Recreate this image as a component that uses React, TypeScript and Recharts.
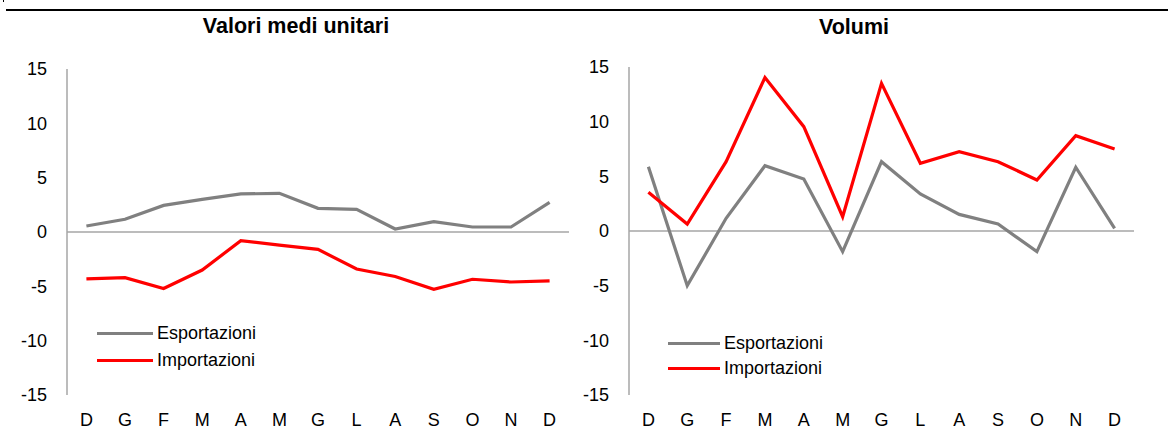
import React from 'react';
import { LineChart, Line, XAxis, YAxis, ReferenceLine, Legend } from 'recharts';

const months = ['D', 'G', 'F', 'M', 'A', 'M', 'G', 'L', 'A', 'S', 'O', 'N', 'D'];
const yTicks = [-15, -10, -5, 0, 5, 10, 15];

const seriesNames = { exp: 'Esportazioni', imp: 'Importazioni' };
const seriesColors = { exp: '#808080', imp: '#ff0000' };

const titleLeft = 'Valori medi unitari';
const titleRight = 'Volumi';

// Valori medi unitari
const vmuExport = [0.55, 1.17, 2.45, 3.0, 3.5, 3.56, 2.18, 2.09, 0.28, 0.95, 0.46, 0.46, 2.73];
const vmuImport = [-4.32, -4.2, -5.2, -3.5, -0.8, -1.2, -1.6, -3.4, -4.1, -5.27, -4.35, -4.6, -4.5];

// Volumi
const volExport = [5.88, -5.0, 1.16, 5.97, 4.76, -1.89, 6.34, 3.39, 1.52, 0.64, -1.89, 5.83, 0.25];
const volImport = [3.54, 0.64, 6.34, 14.03, 9.54, 1.31, 13.5, 6.19, 7.26, 6.34, 4.67, 8.72, 7.5];

const build = (a: number[], b: number[]) =>
  months.map((m, i) => ({ key: `${m}${i}`, m, exp: a[i], imp: b[i] }));

const leftData = build(vmuExport, vmuImport);
const rightData = build(volExport, volImport);

const FONT = '"Liberation Sans", Arial, sans-serif';
const AXIS = '#a6a6a6';

const makeLegend = (lineW: number, rowH: number) => () => (
  <div style={{ fontFamily: FONT, fontSize: 18, color: '#000' }}>
    {(['exp', 'imp'] as const).map((k) => (
      <div key={k} style={{ display: 'flex', alignItems: 'center', height: rowH, lineHeight: `${rowH}px` }}>
        <span style={{ display: 'inline-block', width: lineW, height: 3, background: seriesColors[k], marginRight: 4 }} />
        <span>{seriesNames[k]}</span>
      </div>
    ))}
  </div>
);

type PanelProps = {
  data: any[];
  width: number;
  margin: { top: number; right: number; bottom: number; left: number };
  legendLeft: number;
  legendTop: number;
  lineW: number;
  rowH: number;
};

const Panel = ({ data, width, margin, legendLeft, legendTop, lineW, rowH }: PanelProps) => (
  <LineChart width={width} height={434} data={data} margin={margin}>
    <XAxis
      dataKey="key"
      tickFormatter={(v: string) => v.replace(/\d+$/, '')}
      axisLine={false}
      tickLine={false}
      tickSize={0}
      tickMargin={18}
      height={30}
      interval={0}
      padding={{ left: 19.4, right: 19.4 }}
      tick={{ fill: '#000', fontSize: 18, fontFamily: FONT }}
    />
    <YAxis
      domain={[-15, 15]}
      ticks={yTicks}
      interval={0}
      width={60}
      axisLine={{ stroke: AXIS, strokeWidth: 1.5 }}
      tickLine={false}
      tickSize={0}
      tickMargin={20}
      tick={{ fill: '#000', fontSize: 18, fontFamily: FONT }}
    />
    <ReferenceLine y={0} stroke={AXIS} strokeWidth={1.5} />
    <Line type="linear" dataKey="exp" name={seriesNames.exp} stroke={seriesColors.exp} strokeWidth={3.2} dot={false} isAnimationActive={false} />
    <Line type="linear" dataKey="imp" name={seriesNames.imp} stroke={seriesColors.imp} strokeWidth={3.2} dot={false} isAnimationActive={false} />
    <Legend
      layout="vertical"
      align="center"
      verticalAlign="middle"
      content={makeLegend(lineW, rowH)}
      wrapperStyle={{ position: 'absolute', left: legendLeft, top: legendTop, width: 'auto', margin: 0 }}
    />
  </LineChart>
);

export default function App() {
  return (
    <div style={{ position: 'absolute', left: 0, top: 0, width: 1168, height: 434, background: '#fff', overflow: 'hidden', fontFamily: FONT }}>
      <div style={{ position: 'absolute', left: 3, top: 0, width: 1, height: 2, background: '#000' }} />
      <div style={{ position: 'absolute', left: 6, top: 9, width: 1162, height: 2, background: '#000' }} />
      <div style={{ position: 'absolute', left: 0, top: 0 }}>
        <Panel data={leftData} width={600} margin={{ top: 69, right: 31, bottom: 9, left: 7 }} legendLeft={97} legendTop={319.5} lineW={56} rowH={27} />
      </div>
      <div style={{ position: 'absolute', left: 560, top: 0 }}>
        <Panel data={rightData} width={608} margin={{ top: 67, right: 34, bottom: 9, left: 9 }} legendLeft={108} legendTop={330.5} lineW={52} rowH={25} />
      </div>
      <svg width={1168} height={434} style={{ position: 'absolute', left: 0, top: 0, pointerEvents: 'none' }}>
        <text x={296} y={33} textAnchor="middle" fontFamily={FONT} fontSize={21.5} fontWeight="bold" fill="#000">{titleLeft}</text>
        <text x={854} y={34} textAnchor="middle" fontFamily={FONT} fontSize={21.5} fontWeight="bold" fill="#000">{titleRight}</text>
      </svg>
    </div>
  );
}
